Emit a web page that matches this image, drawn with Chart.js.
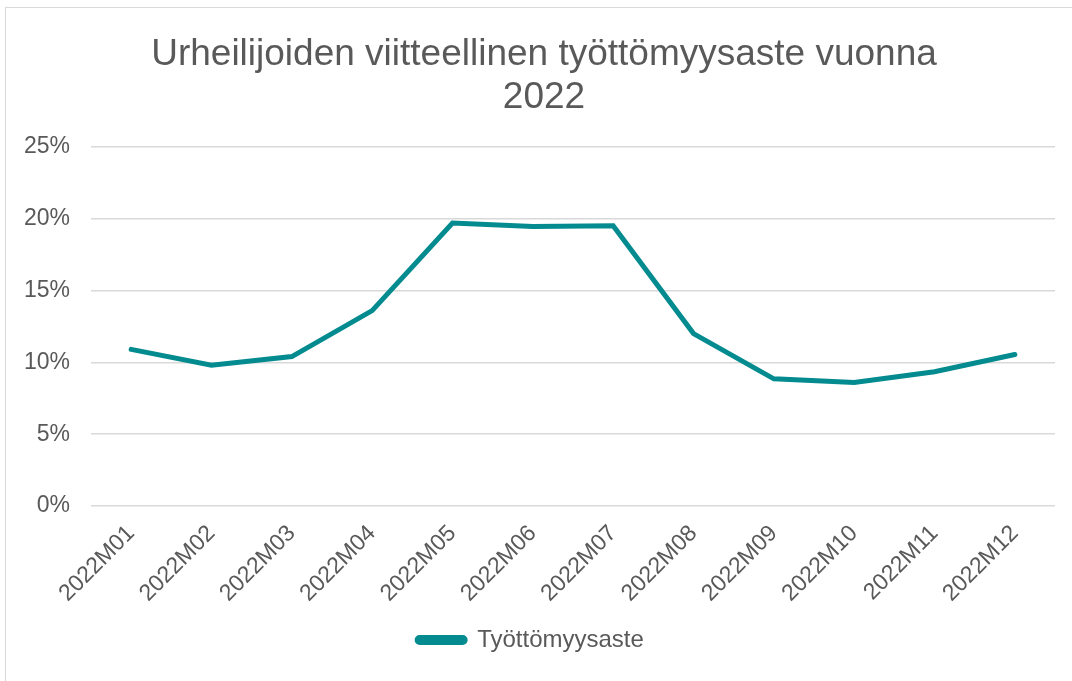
<!DOCTYPE html>
<html>
<head>
<meta charset="utf-8">
<script src="https://cdn.jsdelivr.net/npm/chart.js@4"></script>
<style>
    html, body { margin: 0; padding: 0; background: #fff; overflow: hidden; }
    #wrap {
        position: absolute;
        left: 5px;
        top: 7px;
        width: 1085px;
        height: 690px;
        border: 1.5px solid #d9d9d9;
    }
</style>
</head>
<body>
<div id="wrap"><canvas id="lineChart"></canvas></div>
<script>
// --- Data ---
const months = ['2022M01', '2022M02', '2022M03', '2022M04', '2022M05', '2022M06',
                '2022M07', '2022M08', '2022M09', '2022M10', '2022M11', '2022M12'];
const unemploymentRate = [10.9, 9.8, 10.4, 13.6, 19.7, 19.45, 19.5, 12.0, 8.85, 8.6, 9.35, 10.55];
const seriesName = 'Työttömyysaste';
const chartTitle = ['Urheilijoiden viitteellinen työttömyysaste vuonna', '2022'];

const teal = '#038b8f';
const textGray = '#595959';
const fontFamily = "'Liberation Sans', Arial, sans-serif";

// nudge the title a bit to the right (the original centres it on the whole frame)
const titleShift = {
    id: 'titleShift',
    afterLayout(chart) {
        if (chart.titleBlock) chart.titleBlock.left += 27;
    }
};

const ctx = document.getElementById('lineChart').getContext('2d');
const lineChart = new Chart(ctx, {
    type: 'line',
    data: {
        labels: months,
        datasets: [{
            label: seriesName,
            data: unemploymentRate,
            borderColor: teal,
            backgroundColor: teal,
            borderWidth: 5,
            borderCapStyle: 'round',
            borderJoinStyle: 'miter',
            pointRadius: 0,
            pointHoverRadius: 0,
            tension: 0,
            fill: false
        }]
    },
    options: {
        responsive: true,
        maintainAspectRatio: false,
        animation: false,
        layout: {
            padding: { left: 0, right: 36, top: 0, bottom: 36 }
        },
        scales: {
            x: {
                offset: true,
                afterFit: (scale) => { scale.height = 112; },
                grid: { display: false, drawTicks: false },
                border: { display: false },
                ticks: {
                    minRotation: 45,
                    maxRotation: 45,
                    padding: 14,
                    color: textGray,
                    font: { family: fontFamily, size: 23 }
                }
            },
            y: {
                min: 0,
                max: 25,
                afterFit: (scale) => { scale.width = 85; },
                grid: { color: '#d9d9d9', lineWidth: 1.5, drawTicks: false },
                border: { display: false },
                ticks: {
                    stepSize: 5,
                    padding: 21,
                    color: textGray,
                    font: { family: fontFamily, size: 23 },
                    callback: (v) => v + '%'
                }
            }
        },
        plugins: {
            legend: {
                position: 'bottom',
                labels: {
                    boxWidth: 48,
                    boxHeight: 5,
                    useBorderRadius: true,
                    borderRadius: 2.5,
                    padding: 10,
                    color: textGray,
                    font: { family: fontFamily, size: 24 }
                }
            },
            title: {
                display: true,
                text: chartTitle,
                color: textGray,
                font: { family: fontFamily, size: 37, weight: 'normal', lineHeight: 1.16 },
                padding: { top: 25, bottom: 28 }
            },
            tooltip: { enabled: false }
        }
    },
    plugins: [titleShift]
});
</script>
</body>
</html>
